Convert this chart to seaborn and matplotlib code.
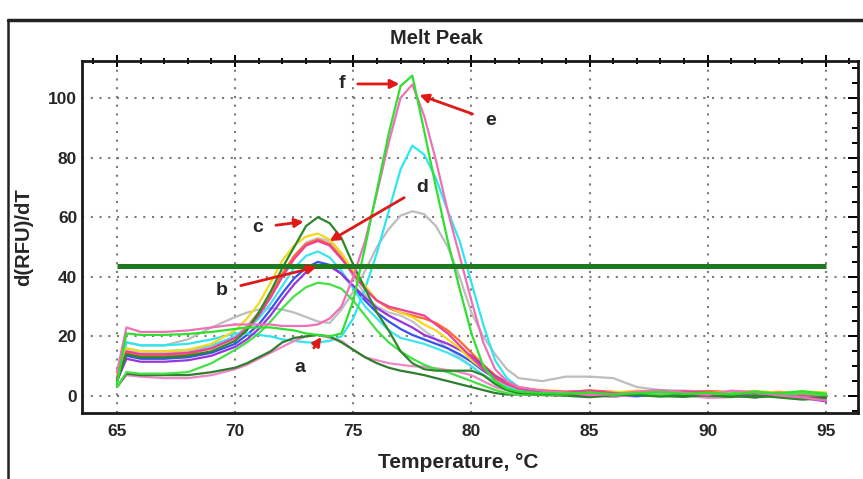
import matplotlib
matplotlib.use("Agg")
import matplotlib.pyplot as plt
from matplotlib.lines import Line2D
from matplotlib.ticker import MultipleLocator
import numpy as np
import pandas as pd
import seaborn as sns

# Temperature steps of the melt (°C)
temperature = [65.0, 65.4, 66, 67, 68, 69, 70, 70.5, 71, 71.5, 72, 72.5, 73, 73.5,
               74, 74.5, 75, 75.5, 76, 76.5, 77, 77.5, 78, 78.5, 79, 79.5, 80, 80.5,
               81, 81.5, 82, 83, 84, 85, 86, 87, 88, 89, 90, 91, 92, 93, 94, 95]

# -d(RFU)/dT for each well
well_gray_high = [7, 18, 17, 17, 19, 23, 26.5, 28, 29, 29.5, 29, 28, 26.5, 25,
                  24.5, 29, 35, 42, 50, 56, 60.5, 62, 61, 57, 50, 40, 28, 20,
                  14, 9, 6, 5, 6.5, 6.5, 6, 3, 2, 1.8, 1.5, 1.2, 1.0, 1.3, 0.8, 0.6]
well_gray_low = [6, 15, 14.5, 14.5, 15, 16.5, 20, 23.5, 28, 34, 41, 47, 51.5, 53,
                 52, 47, 40, 34, 30, 28, 27, 25, 22, 19, 16, 13, 10, 7,
                 5, 3.5, 2.5, 1.6, 1.2, 1.0, 1.3, 0.8, 1.1, 0.6, 0.9, 1.2, 0.7, 0.5, 1.0, 0.4]
well_orange = [6, 14.5, 13.5, 13.5, 14, 16, 19.5, 23, 28, 34, 41, 47, 51, 52.5,
               51, 46.5, 41, 36, 32, 29.5, 28, 27, 26, 24.5, 22, 18.5, 14.5, 10.5,
               7, 4.5, 3, 1.5, 1.3, 1.9, 1.4, 1.1, 1.6, 1.2, 1.7, 1.3, 0.9, 1.4, 1.0, 0.7]
well_blue = [5, 13.5, 12.5, 12.5, 13, 14.5, 17.5, 20.5, 24, 29, 34.5, 39.5, 43, 45,
             44, 41, 36.5, 32, 28, 25, 22.5, 20.5, 19, 17.5, 16, 14, 11.5, 8.5,
             6, 4, 2.5, 1.0, 0.5, 0.9, 0.2, -0.1, 0.6, 0.3, 0.8, 0.2, -0.4, 0.5, 0.1, -0.2]
well_cyan_low = [6, 16, 15, 15, 15.5, 17, 20, 22.5, 26, 31, 37, 43, 47, 48.5,
                 46.5, 42, 36, 30, 26, 22, 19.5, 18.5, 17.5, 16, 14.5, 12.5, 10, 7,
                 4.5, 3, 2, 1.2, 0.9, 0.6, 1.0, 0.4, 0.8, 0.5, 1.1, 0.6, 0.3, 0.9, 0.4, -0.6]
well_cyan_high = [7, 18, 17, 17, 17.5, 19, 21, 21, 20.5, 20, 19, 18.5, 18, 18,
                  18.5, 20, 26, 36, 48, 62, 76, 84, 81, 73, 62, 52, 38, 24,
                  12, 6, 3, 1.6, 1.3, 1.0, 0.5, 1.2, 0.7, 0.9, 0.3, 1.0, 0.5, 0.8, 0.2, -0.3]
well_b = [5, 12.5, 11.5, 11.5, 12, 13.5, 16.5, 19, 22.5, 27, 32.5, 37.5, 41.5, 44,
          43.5, 41, 37, 33, 29.5, 27, 25, 23, 20.5, 19, 17.5, 15.5, 13.5, 10,
          6.5, 4.5, 2.5, 1.4, 0.8, 0.3, -0.2, 0.5, 0.9, 0.2, -0.3, 0.4, 0.7, 0.1, -0.6, -1.8]
well_yellow = [7, 16, 15, 15, 15.5, 17.5, 22, 26, 31, 38, 45.5, 50.5, 53.5, 54.5,
               52.5, 48, 42, 37, 32, 30, 28, 26.5, 24, 22, 19, 16, 12, 9,
               6, 4, 2.5, 2.0, 1.6, 1.4, 1.2, 1.8, 1.5, 1.0, 0.9, 1.4, 1.7, 1.1, 1.5, 1.2]
well_d = [6, 15, 14, 14, 14.5, 16, 19.5, 22.5, 27, 33, 40, 46, 50.5, 52,
          50.5, 46, 41, 36, 32, 30, 29, 28, 27, 24, 21, 17, 13, 9,
          6, 4, 2.5, 1.8, 1.4, 1.8, 1.0, 0.7, 1.3, 1.6, 1.1, 0.6, 1.2, 0.9, 0.3, -0.4]
well_pink_low = [3, 7, 6.5, 6, 6, 7, 9, 10.5, 12.5, 14.5, 16.5, 18.5, 20, 20.5,
                 19.5, 18.5, 15.5, 13, 12, 11, 10.5, 10, 9.8, 9.3, 8.7, 8, 7, 5,
                 3, 2, 1, 0.8, 0.3, 0.6, -0.2, 0.4, 0.9, 0.2, -0.6, -0.4, 0.3, -0.1, -0.7, -1.2]
well_a = [3, 7.5, 7, 7, 7, 8, 9.5, 11, 13, 15, 18, 19.5, 20, 20.5,
          20, 18, 15.5, 13, 11, 9.5, 8.5, 7.8, 7, 6, 5, 4, 3, 2,
          1, 0.5, 0.5, 0.3, 0.1, -0.4, 0.2, 0.5, 0.0, -0.3, 0.4, 0.1, -0.5, 0.2, -0.9, -0.4]
well_green_mid = [3, 8, 7.5, 7.5, 8, 11, 15.5, 18, 21, 25, 29.5, 33.5, 36.5, 38,
                  37.5, 36, 32, 27, 22, 18, 15, 12.5, 10.5, 9, 8, 6.5, 5, 3.5,
                  2, 1, 0.5, 0.5, 0.3, 0.8, 0.2, 1.0, 0.4, 0.7, 0.2, 0.9, 1.6, 0.5, 0.8, 0.3]
well_c = [5, 14, 13, 13, 13.5, 15, 18.5, 22, 28, 35, 43, 50, 57, 60,
          58, 53, 44, 36, 28, 22, 15, 11, 9, 8.5, 8.5, 8.5, 8.5, 7,
          4, 2, 1, 0.8, 0.5, 0.2, 0.6, 0.3, -0.2, 0.4, 0.1, -0.3, 0.2, -0.5, -1.2, -0.8]
well_e = [8, 23, 21.5, 21.5, 22, 23, 24, 24, 24, 24, 23.5, 23.5, 23.5, 24,
          26, 30, 40, 52, 68, 85, 100, 104.5, 94, 79, 62, 47, 32, 18,
          9, 5, 3, 1.8, 1.2, 0.3, 0.6, 1.5, 2.0, 1.1, 0.4, 1.8, 1.2, 0.2, -0.5, -1.5]
well_f = [4, 21, 20.5, 20.5, 20.8, 21.5, 22.5, 23, 23, 23, 22.5, 22, 21, 20.5,
          20, 21, 32, 50, 69, 88, 104, 107.5, 89, 70, 52, 36, 21, 10,
          5, 2.5, 1.5, 1.0, 0.8, 1.2, 0.6, 0.9, 1.4, 0.7, 1.1, 0.5, 1.3, 0.9, 1.6, 0.8]

wells = {
    "gray_high": (well_gray_high, "#bdbdbd"),
    "gray_low": (well_gray_low, "#c4c4c4"),
    "orange": (well_orange, "#ff6a2a"),
    "blue": (well_blue, "#3355ee"),
    "cyan_low": (well_cyan_low, "#3fe3f2"),
    "cyan_high": (well_cyan_high, "#2ee6f2"),
    "b": (well_b, "#9933dd"),
    "yellow": (well_yellow, "#f2d81e"),
    "d": (well_d, "#ee3f9a"),
    "pink_low": (well_pink_low, "#ee86c6"),
    "a": (well_a, "#2f7d2f"),
    "green_mid": (well_green_mid, "#45e045"),
    "c": (well_c, "#2a8a2a"),
    "e": (well_e, "#f070b8"),
    "f": (well_f, "#2fe02f"),
}

threshold = 43.6

# Arrow callouts: label, text position (T, value), arrow tip (T, value)
callouts = [
    ("a", (72.75, 9.5), (73.65, 19.8)),
    ("b", (69.45, 35.5), (73.45, 43.3)),
    ("c", (70.95, 56.5), (72.9, 58.5)),
    ("d", (77.9, 70.0), (74.0, 52.0)),
    ("e", (80.8, 92.5), (77.8, 101.0)),
    ("f", (74.5, 104.7), (76.95, 104.7)),
]

rows = []
for name, (vals, _) in wells.items():
    for t, v in zip(temperature, vals):
        rows.append((name, t, v))
df = pd.DataFrame(rows, columns=["Well", "Temperature", "dRFU"])
palette = {name: col for name, (_, col) in wells.items()}

sns.set_style("white")
plt.rcParams["font.family"] = ["Liberation Sans", "DejaVu Sans"]
plt.rcParams["font.weight"] = "bold"

fig = plt.figure(figsize=(8.63, 4.79), dpi=100)
ax = fig.add_axes([82 / 863, 1 - 413 / 479, (858 - 82) / 863, (413 - 61) / 479])

sns.lineplot(data=df, x="Temperature", y="dRFU", hue="Well", hue_order=list(wells),
             palette=palette, estimator=None, sort=False, legend=False,
             linewidth=1.6, ax=ax)

ax.hlines(threshold, 65, 95, color="#1f7a1f", linewidth=3.6, zorder=5)

ax.set_xlim(63.52, 96.36)
ax.set_ylim(-5.7, 112.4)
ax.xaxis.set_major_locator(MultipleLocator(5))
ax.xaxis.set_minor_locator(MultipleLocator(1))
ax.yaxis.set_major_locator(MultipleLocator(20))
ax.yaxis.set_minor_locator(MultipleLocator(5))
ax.grid(True, which="major", color="#7a7a7a", linewidth=1.5,
        linestyle=(0, (1, 3.2)))
ax.tick_params(axis="both", which="both", top=True, right=True, color="black",
               width=1.4, labelsize=12.5)
ax.tick_params(axis="x", which="major", direction="inout", length=9)
ax.tick_params(axis="x", which="minor", direction="inout", length=5)
ax.tick_params(axis="y", which="major", direction="in", length=7)
ax.tick_params(axis="y", which="minor", direction="in", length=4)
for lab in ax.get_xticklabels() + ax.get_yticklabels():
    lab.set_fontweight("bold")
for sp in ax.spines.values():
    sp.set_color("#1a1a1a")
    sp.set_linewidth(2.0)

ax.set_xlabel("Temperature, °C", fontsize=15, fontweight="bold", labelpad=10,
              x=0.4845)
ax.set_ylabel("d(RFU)/dT", fontsize=14.5, fontweight="bold", labelpad=11)
fig.text(436 / 863, 1 - 38 / 479, "Melt Peak", fontsize=14.5, fontweight="bold",
         ha="center", va="center")

for label, (tx, ty), (px, py) in callouts:
    ax.annotate(label, xy=(px, py), xytext=(tx, ty), fontsize=14,
                fontweight="bold", ha="center", va="center", zorder=8,
                arrowprops=dict(arrowstyle="-|>", color="#e01818", lw=2.0,
                                mutation_scale=13, shrinkA=7, shrinkB=0))

# Frame around the panel
fig.add_artist(Line2D([8 / 863, 1.0], [1 - 20 / 479, 1 - 20 / 479],
                      transform=fig.transFigure, color="#222222", lw=2.5))
fig.add_artist(Line2D([8 / 863, 8 / 863], [0.0, 1 - 20 / 479],
                      transform=fig.transFigure, color="#222222", lw=1.8))

fig.savefig("out.png", dpi=100)
